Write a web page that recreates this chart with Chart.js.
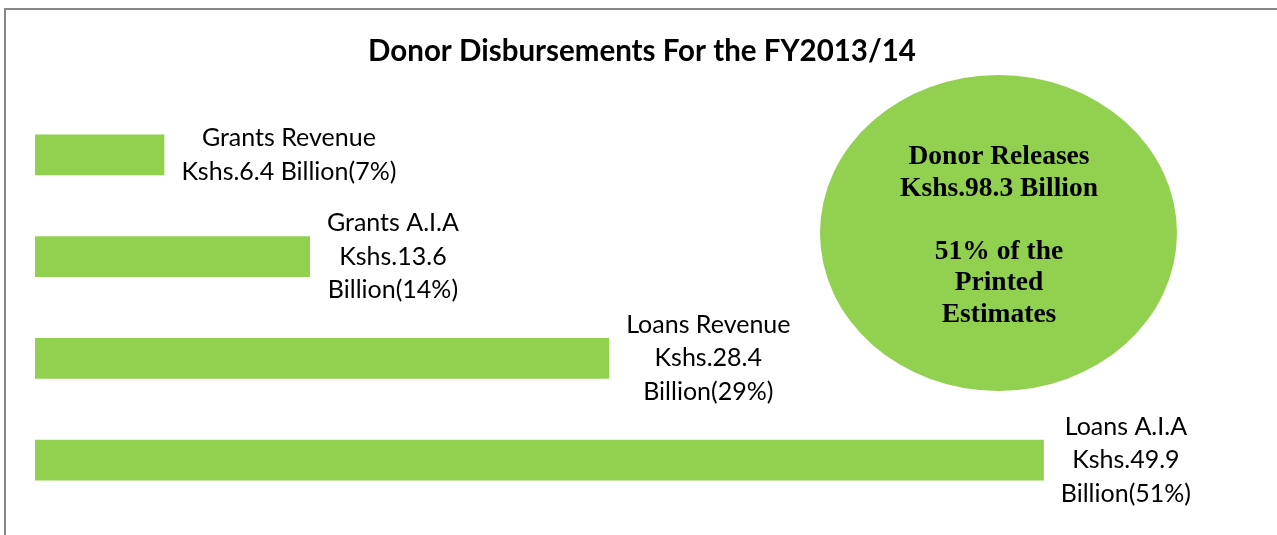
<!DOCTYPE html>
<html>
<head>
<meta charset="utf-8">
<script src="https://cdn.jsdelivr.net/npm/chart.js@4/dist/chart.umd.min.js"></script>
<style>
  html,body{margin:0;padding:0;background:#fff;overflow:hidden;}
  #wrap{position:absolute;left:0;top:0;width:1277px;height:535px;}
  #frame{position:absolute;left:4px;top:8px;width:1290px;height:600px;border:2px solid #888;box-sizing:border-box;}
  canvas{position:absolute;left:0;top:0;}
</style>
</head>
<body>
<div id="wrap">
  <div id="frame"></div>
  <canvas id="c" width="1277" height="535"></canvas>
</div>
<script>
const titleText = "Donor Disbursements For the FY2013/14";
const categories = ["Grants Revenue", "Grants A.I.A", "Loans Revenue", "Loans A.I.A"];
const values = [6.4, 13.6, 28.4, 49.9];
const shares = ["7%", "14%", "29%", "51%"];
const labelLines = [
  ["Grants Revenue", "Kshs.6.4 Billion(7%)"],
  ["Grants A.I.A", "Kshs.13.6", "Billion(14%)"],
  ["Loans Revenue", "Kshs.28.4", "Billion(29%)"],
  ["Loans A.I.A", "Kshs.49.9", "Billion(51%)"]
];
const calloutLines = ["Donor Releases", "Kshs.98.3 Billion", "", "51% of the", "Printed", "Estimates"];
const xMax = 60;

const GREEN = "#92D050";

const overlay = {
  id: "overlay",
  afterDatasetsDraw(chart) {
    const ctx = chart.ctx;
    ctx.save();
    // title
    ctx.fillStyle = "#000";
    ctx.font = "bold 29.5px Lato, 'Open Sans', sans-serif";
    ctx.textAlign = "center";
    ctx.textBaseline = "middle";
    ctx.fillText(titleText, 642, 51);

    // bar labels
    const meta = chart.getDatasetMeta(0);
    ctx.font = "25px Lato, 'Open Sans', sans-serif";
    const lh = 33.5;
    meta.data.forEach((bar, i) => {
      const lines = labelLines[i];
      let w = 0;
      lines.forEach(l => { w = Math.max(w, ctx.measureText(l).width); });
      const cx = bar.x + 17 + w / 2;
      const y0 = bar.y - (lines.length - 1) * lh / 2;
      lines.forEach((l, k) => ctx.fillText(l, cx, y0 + k * lh));
    });

    // callout ellipse
    ctx.beginPath();
    ctx.ellipse(998.5, 233, 178.5, 158, 0, 0, Math.PI * 2);
    ctx.fillStyle = GREEN;
    ctx.fill();
    ctx.fillStyle = "#000";
    ctx.font = "bold 27.5px 'Liberation Serif', 'DejaVu Serif', serif";
    const clh = 31.5;
    calloutLines.forEach((l, k) => ctx.fillText(l, 999, 157 + k * clh));
    ctx.restore();
  }
};

new Chart(document.getElementById("c"), {
  type: "bar",
  data: {
    labels: categories,
    datasets: [{
      data: values,
      backgroundColor: GREEN,
      borderWidth: 0,
      barPercentage: 0.40,
      categoryPercentage: 1.0
    }]
  },
  options: {
    indexAxis: "y",
    responsive: false,
    animation: false,
    events: [],
    layout: { padding: { left: 35, right: 29, top: 104, bottom: 24 } },
    scales: {
      x: { display: false, min: 0, max: xMax },
      y: { display: false }
    },
    plugins: {
      legend: { display: false },
      tooltip: { enabled: false },
      title: { display: false }
    }
  },
  plugins: [overlay]
});
</script>
</body>
</html>
